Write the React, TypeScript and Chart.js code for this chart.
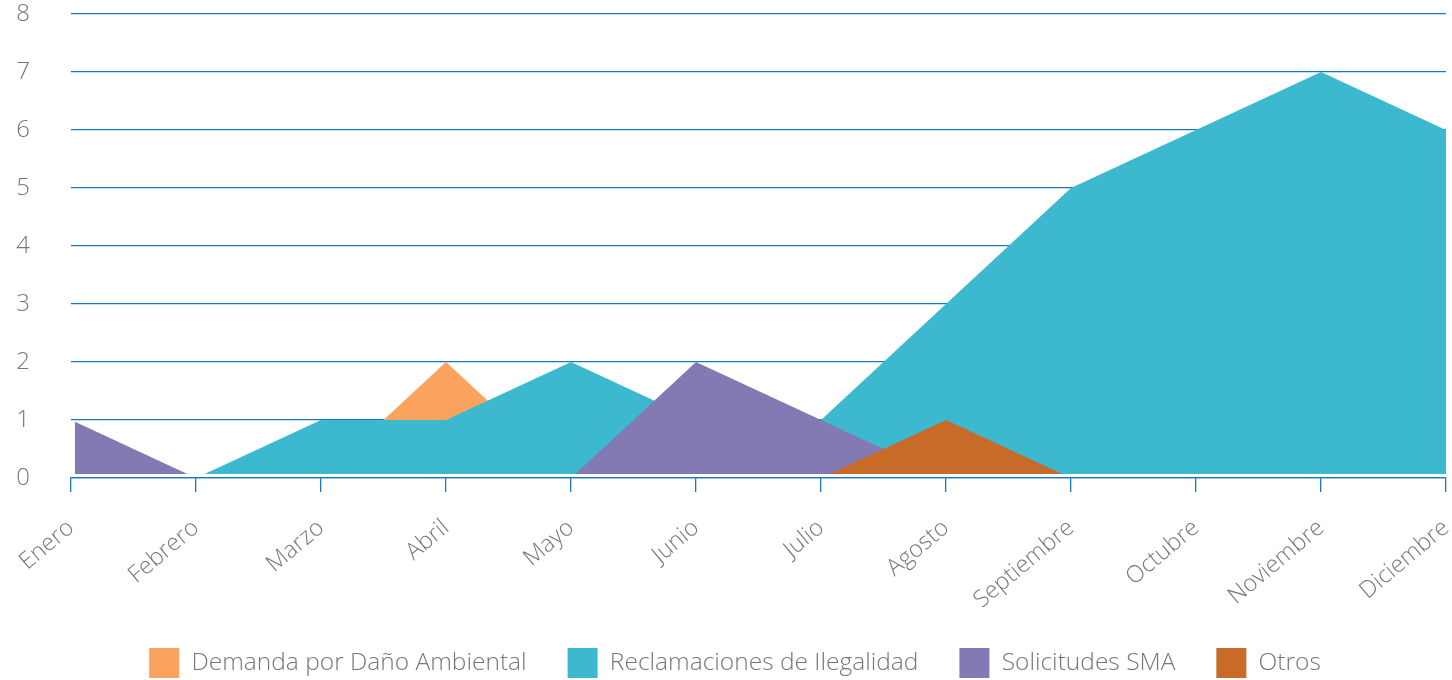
import React, { useEffect, useRef } from "react";
import { Chart, registerables } from "chart.js";

Chart.register(...registerables);

const months = [
  "Enero", "Febrero", "Marzo", "Abril", "Mayo", "Junio",
  "Julio", "Agosto", "Septiembre", "Octubre", "Noviembre", "Diciembre",
];

const demanda = [0, 0, 0, 2, 0, 0, 0, 0, 0, 0, 0, 0];
const reclamaciones = [0, 0, 1, 1, 2, 1, 1, 3, 5, 6, 7, 6];
const solicitudes = [1, 0, 0, 0, 0, 2, 1, 0, 0, 0, 0, 0];
const otros = [0, 0, 0, 0, 0, 0, 0, 1, 0, 0, 0, 0];

const seriesNames = [
  "Demanda por Daño Ambiental",
  "Reclamaciones de Ilegalidad",
  "Solicitudes SMA",
  "Otros",
];
const seriesColors = ["#F9A35E", "#3CB9CF", "#847AB3", "#C86A28"];

const yTicks = [0, 1, 2, 3, 4, 5, 6, 7, 8];

const FONT = "'Open Sans', 'Liberation Sans', Arial, sans-serif";
const GRID = "#1877C4";
const TEXT = "#777777";

export default function App() {
  const canvasRef = useRef<HTMLCanvasElement | null>(null);

  useEffect(() => {
    const canvas = canvasRef.current;
    if (!canvas) return;

    const insetClip = {
      id: "insetClip",
      afterLayout(chart: any) {
        if (chart.legend) {
          chart.legend.left += 12;
          chart.legend.right += 12;
        }
      },
      beforeDatasetsDraw(chart: any) {
        const { ctx, chartArea } = chart;
        ctx.save();
        ctx.beginPath();
        ctx.rect(
          chartArea.left + 4,
          chartArea.top - 2,
          chartArea.right - chartArea.left - 4,
          chartArea.bottom - chartArea.top - 2
        );
        ctx.clip();
      },
      afterDatasetsDraw(chart: any) {
        chart.ctx.restore();
      },
    };

    const values = [demanda, reclamaciones, solicitudes, otros];
    const orders = [4, 3, 2, 1];

    const chart = new Chart(canvas, {
      type: "line",
      data: {
        labels: months,
        datasets: values.map((v, i) => ({
          label: seriesNames[i],
          data: v,
          backgroundColor: seriesColors[i],
          borderColor: seriesColors[i],
          borderWidth: 0,
          pointRadius: 0,
          pointHoverRadius: 0,
          tension: 0,
          fill: "origin",
          order: orders[i],
        })),
      },
      options: {
        animation: false,
        responsive: false,
        devicePixelRatio: 1,
        layout: { padding: { left: 0, right: 6, top: 14, bottom: 0 } },
        plugins: {
          tooltip: { enabled: false },
          legend: {
            position: "bottom",
            labels: {
              boxWidth: 30,
              boxHeight: 30,
              padding: 41,
              color: TEXT,
              font: { family: FONT, size: 24.5, weight: 300 as any },
              sort: (a: any, b: any) => a.datasetIndex - b.datasetIndex,
            },
          },
        },
        scales: {
          x: {
            offset: false,
            grid: {
              drawOnChartArea: false,
              drawTicks: true,
              tickLength: 14,
              color: GRID,
              lineWidth: 1.3,
            },
            border: { display: true, color: GRID, width: 1.3 },
            ticks: {
              autoSkip: false,
              minRotation: 40,
              maxRotation: 40,
              padding: 22,
              color: TEXT,
              font: { family: FONT, size: 23.5, weight: 300 as any },
            },
            afterFit: (scale: any) => {
              scale.height = 129;
              scale.paddingRight = 0;
            },
          },
          y: {
            min: 0,
            max: 8,
            z: 1,
            grid: {
              color: GRID,
              lineWidth: 1.3,
              drawTicks: false,
            },
            border: { display: false },
            afterBuildTicks: (scale: any) => {
              scale.ticks = yTicks.map((v) => ({ value: v }));
            },
            ticks: {
              stepSize: 1,
              padding: 41,
              color: TEXT,
              font: { family: FONT, size: 24, weight: 300 as any },
            },
            afterFit: (scale: any) => {
              scale.width = 71;
              scale.paddingTop = 0;
              scale.paddingBottom = 0;
            },
          },
        },
      },
      plugins: [insetClip],
    });

    return () => chart.destroy();
  }, []);

  return (
    <div
      style={{
        position: "fixed",
        left: 0,
        top: 0,
        width: 1452,
        height: 680,
        overflow: "hidden",
        background: "#ffffff",
      }}
    >
      <canvas ref={canvasRef} width={1452} height={688} style={{ display: "block" }} />
    </div>
  );
}
